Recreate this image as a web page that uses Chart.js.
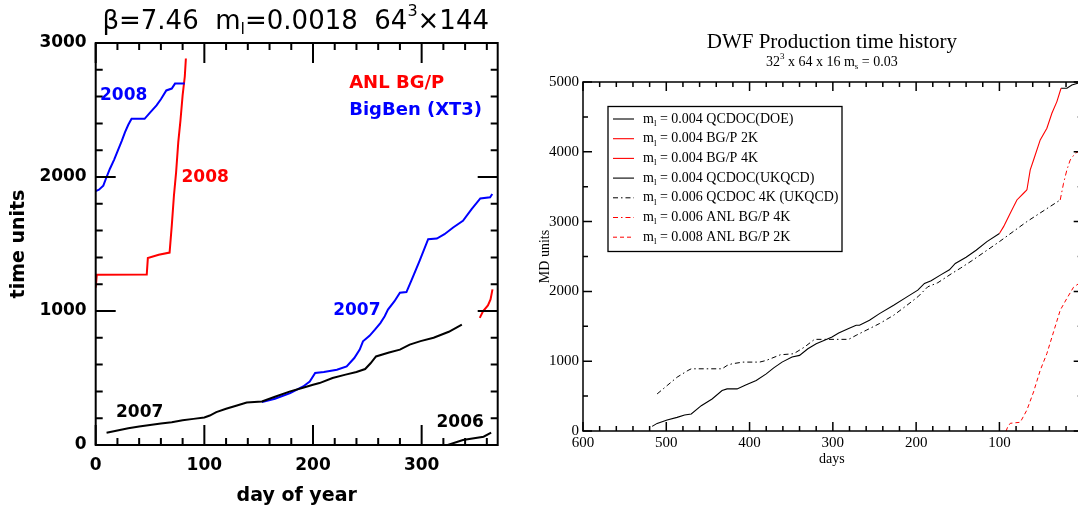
<!DOCTYPE html>
<html>
<head>
<meta charset="utf-8">
<script src="https://cdn.jsdelivr.net/npm/chart.js@4.4.1/dist/chart.umd.min.js"></script>
<style>
html, body { margin: 0; padding: 0; background: #fff; overflow: hidden; width: 1078px; height: 508px; }
#left { position: absolute; left: 0; top: 0; width: 530px; height: 508px; }
#right { position: absolute; left: 530px; top: 0; width: 560px; height: 508px; }
</style>
</head>
<body>
<div id="left"><canvas id="c1"></canvas></div>
<div id="right"><canvas id="c2"></canvas></div>
<script>
// ---- left panel: beta=7.46 run, time units vs day of year ----
const leftXTicks = [0, 100, 200, 300];
const leftYTicks = [0, 1000, 2000, 3000];

const qcdoc2007Days = [10, 20, 30, 40, 50, 60, 70, 80, 90, 100, 105, 111, 120, 130, 139, 153, 165, 179, 190, 200, 206, 218, 230, 240, 248, 253, 258, 270, 280, 289, 299, 311, 325, 337];
const qcdoc2007Vals = [92, 108, 125, 138, 150, 160, 170, 185, 195, 205, 220, 245, 270, 295, 317, 325, 360, 400, 425, 450, 462, 500, 525, 545, 567, 610, 661, 690, 712, 749, 775, 800, 845, 899];
const qcdoc2006Days = [324, 338, 357, 364];
const qcdoc2006Vals = [0, 37, 62, 92];

const bigben2007Days = [153, 165, 179, 191, 197, 202, 210, 222, 231, 238, 243, 246, 252, 257, 262, 266, 269, 275, 280, 286, 291, 298, 306, 314, 321, 329, 338, 346, 354, 363, 365];
const bigben2007Vals = [320, 345, 387, 437, 474, 537, 545, 562, 587, 649, 712, 774, 815, 861, 910, 961, 1011, 1073, 1136, 1141, 1236, 1373, 1536, 1541, 1573, 1623, 1673, 1760, 1840, 1848, 1873];
const bigben2008Days = [0, 3, 7, 10, 13, 17, 21, 24, 27, 30, 33, 40, 45, 50, 56, 60, 65, 70, 73, 78, 82];
const bigben2008Vals = [1895, 1905, 1935, 2000, 2060, 2130, 2210, 2270, 2335, 2390, 2434, 2434, 2434, 2480, 2534, 2580, 2646, 2660, 2697, 2697, 2697];

const bgp2008Days = [0, 1, 47, 48, 58, 68, 70, 72, 74, 76, 78, 80, 82, 83];
const bgp2008Vals = [1174, 1270, 1273, 1395, 1420, 1436, 1635, 1860, 2035, 2260, 2420, 2609, 2750, 2884];
const bgp2007Days = [353.5, 356.6, 361, 363.4, 365.2];
const bgp2007Vals = [949, 999, 1041, 1086, 1161];

// annotation text: [text, day, value, colour]
const leftNotes = [
  ["2008", 4, 2607, "#0000ff"],
  ["2008", 79, 1998, "#ff0000"],
  ["2007", 218.6, 1004, "#0000ff"],
  ["2007", 18.7, 245, "#000000"],
  ["2006", 313.7, 167, "#000000"],
  ["ANL BG/P", 233.3, 2697, "#ff0000"],
  ["BigBen (XT3)", 233.3, 2494, "#0000ff"]
];

// ---- right panel: DWF production time history ----
const rightXTicks = [600, 500, 400, 300, 200, 100];
const rightYTicks = [0, 1000, 2000, 3000, 4000, 5000];

const doeDays = [517, 511, 499, 487, 478, 470, 458, 445, 433, 427, 415, 404, 392, 380, 371, 361, 349, 340, 330, 320, 310, 301, 293, 281, 272, 268, 256, 244, 227, 211, 198, 190, 182, 170, 160, 153, 140, 128, 115, 100];
const doeVals = [66, 109, 157, 195, 229, 243, 363, 459, 579, 603, 603, 661, 723, 819, 905, 987, 1059, 1083, 1179, 1251, 1299, 1347, 1404, 1467, 1515, 1515, 1587, 1682, 1802, 1922, 2018, 2114, 2153, 2240, 2310, 2400, 2490, 2590, 2713, 2830];
const bgp2kDays = [100, 95, 87, 79, 71, 67];
const bgp2kVals = [2830, 2928, 3119, 3310, 3406, 3453];
const bgp4kDays = [67, 63, 59, 51, 43, 37, 31, 26];
const bgp4kVals = [3453, 3740, 3883, 4170, 4337, 4552, 4719, 4910];
const ukqcdDays = [26, 19, 13, 5, 1];
const ukqcdVals = [4910, 4910, 4957, 4985, 5000];
const qcdoc4kDays = [511, 499, 487, 474, 470, 454, 433, 427, 421, 408, 388, 380, 363, 347, 334, 322, 310, 281, 272, 260, 244, 227, 211, 198, 186, 174, 157, 147, 133, 100, 67, 27];
const qcdoc4kVals = [531, 651, 771, 867, 891, 891, 891, 939, 963, 987, 987, 1011, 1092, 1107, 1203, 1313, 1313, 1313, 1371, 1443, 1539, 1658, 1802, 1922, 2066, 2124, 2258, 2331, 2440, 2713, 3000, 3310];
const anl4kDays = [27, 23, 19, 15, 9, 5, 1];
const anl4kVals = [3310, 3549, 3740, 3883, 3979, 4003, 4040];
const anl2kDays = [92, 90, 87, 75, 67, 59, 51, 43, 35, 27, 19, 11, 5, 1];
const anl2kVals = [0, 60, 110, 125, 300, 560, 870, 1110, 1420, 1730, 1900, 2060, 2110, 2160];

const legendLabels = [
  "m_l = 0.004 QCDOC(DOE)",
  "m_l = 0.004 BG/P 2K",
  "m_l = 0.004 BG/P 4K",
  "m_l = 0.004 QCDOC(UKQCD)",
  "m_l = 0.006 QCDOC 4K (UKQCD)",
  "m_l = 0.006 ANL BG/P 4K",
  "m_l = 0.008 ANL BG/P 2K"
];

function pts(xs, ys) { return xs.map((x, i) => ({x: x, y: ys[i]})); }

// simple text with single-char _sub and ^sup
function drawRich(ctx, text, x, y, size, family, weight, align) {
  const parts = [];
  let buf = "";
  for (let i = 0; i < text.length; i++) {
    const ch = text[i];
    if ((ch === "_" || ch === "^") && i + 1 < text.length) {
      if (buf) parts.push({t: buf, k: 0});
      buf = "";
      parts.push({t: text[i + 1], k: ch === "_" ? 1 : -1});
      i++;
    } else buf += ch;
  }
  if (buf) parts.push({t: buf, k: 0});
  const fontFor = k => weight + " " + (k ? Math.round(size * 0.62) : size) + "px " + family;
  let w = 0;
  parts.forEach(p => { ctx.font = fontFor(p.k); p.w = ctx.measureText(p.t).width; w += p.w; });
  let cx = align === "center" ? x - w / 2 : x;
  ctx.textAlign = "left";
  ctx.textBaseline = "middle";
  parts.forEach(p => {
    ctx.font = fontFor(p.k);
    const dy = p.k > 0 ? size * 0.32 : (p.k < 0 ? -size * 0.4 : 0);
    ctx.fillText(p.t, cx, y + dy);
    cx += p.w;
  });
}

// box frame with inward ticks on all four sides
function frameTicks(o) {
  return {
    id: "frameTicks",
    afterDatasetsDraw(chart) {
      const {ctx, chartArea: a, scales: {x, y}} = chart;
      ctx.save();
      ctx.strokeStyle = "#000";
      ctx.lineWidth = o.width;
      ctx.strokeRect(a.left, a.top, a.right - a.left, a.bottom - a.top);
      ctx.beginPath();
      for (let v = x.min; v <= x.max; v += o.xMinor) {
        const px = x.getPixelForValue(v);
        const len = v % o.xMajor === 0 ? o.major : o.minor;
        ctx.moveTo(px, a.bottom); ctx.lineTo(px, a.bottom - len);
        ctx.moveTo(px, a.top); ctx.lineTo(px, a.top + len);
      }
      for (let v = y.min; v <= y.max; v += o.yMinor) {
        const py = y.getPixelForValue(v);
        const len = v % o.yMajor === 0 ? o.major : o.minor;
        ctx.moveTo(a.left, py); ctx.lineTo(a.left + len, py);
        ctx.moveTo(a.right, py); ctx.lineTo(a.right - len, py);
      }
      ctx.stroke();
      ctx.restore();
    }
  };
}

const plain = v => String(v); // no thousands separator

const leftFont = "'DejaVu Sans'";
const leftText = {
  id: "leftText",
  afterDraw(chart) {
    const {ctx, chartArea: a, scales: {x, y}} = chart;
    ctx.save();
    ctx.fillStyle = "#000";
    drawRich(ctx, "\u03b2=7.46  m_l=0.0018  64^3\u00d7144", (a.left + a.right) / 2 - 1, a.top - 21, 26, leftFont, "normal", "center");
    drawRich(ctx, "day of year", (a.left + a.right) / 2, a.bottom + 51, 19, leftFont, "bold", "center");
    ctx.translate(a.left - 77, (a.top + a.bottom) / 2);
    ctx.rotate(-Math.PI / 2);
    drawRich(ctx, "time units", 0, 0, 19, leftFont, "bold", "center");
    ctx.restore();
    ctx.save();
    leftNotes.forEach(n => {
      ctx.fillStyle = n[3];
      const size = n[0].length > 4 ? 18 : 17;
      drawRich(ctx, n[0], x.getPixelForValue(n[1]), y.getPixelForValue(n[2]), size, leftFont, "bold", "left");
    });
    ctx.restore();
  }
};

const lineOpts = (color, w) => ({borderColor: color, borderWidth: w, pointRadius: 0, fill: false, tension: 0});

new Chart(document.getElementById("c1"), {
  type: "line",
  data: {
    datasets: [
      Object.assign({label: "QCDOC 2007", data: pts(qcdoc2007Days, qcdoc2007Vals)}, lineOpts("#000000", 2)),
      Object.assign({label: "QCDOC 2006", data: pts(qcdoc2006Days, qcdoc2006Vals)}, lineOpts("#000000", 2)),
      Object.assign({label: "BigBen 2007", data: pts(bigben2007Days, bigben2007Vals)}, lineOpts("#0000ff", 2)),
      Object.assign({label: "BigBen 2008", data: pts(bigben2008Days, bigben2008Vals)}, lineOpts("#0000ff", 2)),
      Object.assign({label: "ANL BG/P 2008", data: pts(bgp2008Days, bgp2008Vals)}, lineOpts("#ff0000", 2)),
      Object.assign({label: "ANL BG/P 2007", data: pts(bgp2007Days, bgp2007Vals)}, lineOpts("#ff0000", 2))
    ]
  },
  options: {
    responsive: true, maintainAspectRatio: false, animation: false,
    layout: {padding: {left: 0, top: 43, right: 32.3, bottom: 0}},
    plugins: {legend: {display: false}, tooltip: {enabled: false}},
    scales: {
      x: {
        type: "linear", min: 0, max: 370,
        grid: {display: false, drawTicks: false}, border: {display: false},
        afterBuildTicks: s => { s.ticks = leftXTicks.map(v => ({value: v})); },
        afterFit: s => { s.height = 63; },
        ticks: {padding: 10, color: "#000", maxRotation: 0, callback: plain, font: {family: leftFont, weight: "bold", size: 17}}
      },
      y: {
        type: "linear", min: 0, max: 3000,
        grid: {display: false, drawTicks: false}, border: {display: false},
        afterBuildTicks: s => { s.ticks = leftYTicks.map(v => ({value: v})); },
        afterFit: s => { s.width = 95.7; },
        ticks: {padding: 9, color: "#000", callback: plain, font: {family: leftFont, weight: "bold", size: 17}}
      }
    }
  },
  plugins: [frameTicks({width: 2, major: 20, minor: 7, xMinor: 20, xMajor: 100, yMinor: 200, yMajor: 1000}), leftText]
});

const serif = "'Liberation Serif'";
const rightText = {
  id: "rightText",
  afterDraw(chart) {
    const {ctx, chartArea: a} = chart;
    ctx.save();
    ctx.fillStyle = "#000";
    const cx = (a.left + a.right) / 2;
    drawRich(ctx, "DWF Production time history", cx - 1, a.top - 40, 21, serif, "normal", "center");
    drawRich(ctx, "32^3 x 64 x 16 m_s = 0.03", cx - 1, a.top - 20, 14, serif, "normal", "center");
    drawRich(ctx, "days", cx - 1, a.bottom + 28, 14, serif, "normal", "center");
    ctx.save();
    ctx.translate(a.left - 38, (a.top + a.bottom) / 2);
    ctx.rotate(-Math.PI / 2);
    drawRich(ctx, "MD units", 0, 0, 14, serif, "normal", "center");
    ctx.restore();
    // legend box
    const bx = a.left + 25, by = a.top + 24.5, bw = 234, bh = 145;
    ctx.fillStyle = "#fff";
    ctx.fillRect(bx, by, bw, bh);
    ctx.strokeStyle = "#000";
    ctx.lineWidth = 1.3;
    ctx.strokeRect(bx, by, bw, bh);
    chart.data.datasets.forEach((ds, i) => {
      const ry = by + 12.5 + i * 19.7;
      ctx.save();
      ctx.strokeStyle = ds.borderColor;
      ctx.lineWidth = ds.borderWidth;
      ctx.setLineDash(ds.borderDash || []);
      ctx.beginPath();
      ctx.moveTo(bx + 5, ry);
      ctx.lineTo(bx + 26, ry);
      ctx.stroke();
      ctx.restore();
      ctx.fillStyle = "#000";
      drawRich(ctx, ds.label, bx + 35, ry, 14, serif, "normal", "left");
    });
    ctx.restore();
  }
};

const dashDot = [5, 3, 1.5, 3];
new Chart(document.getElementById("c2"), {
  type: "line",
  data: {
    datasets: [
      Object.assign({label: legendLabels[0], data: pts(doeDays, doeVals)}, lineOpts("#000000", 1.1)),
      Object.assign({label: legendLabels[1], data: pts(bgp2kDays, bgp2kVals)}, lineOpts("#ff0000", 1.1)),
      Object.assign({label: legendLabels[2], data: pts(bgp4kDays, bgp4kVals)}, lineOpts("#ff0000", 1.1)),
      Object.assign({label: legendLabels[3], data: pts(ukqcdDays, ukqcdVals)}, lineOpts("#000000", 1.1)),
      Object.assign({label: legendLabels[4], data: pts(qcdoc4kDays, qcdoc4kVals), borderDash: dashDot}, lineOpts("#000000", 1)),
      Object.assign({label: legendLabels[5], data: pts(anl4kDays, anl4kVals), borderDash: dashDot}, lineOpts("#ff0000", 1)),
      Object.assign({label: legendLabels[6], data: pts(anl2kDays, anl2kVals), borderDash: [4, 3]}, lineOpts("#ff0000", 1))
    ]
  },
  options: {
    responsive: true, maintainAspectRatio: false, animation: false,
    layout: {padding: {left: 0, top: 82, right: 7.3, bottom: 0}},
    plugins: {legend: {display: false}, tooltip: {enabled: false}},
    scales: {
      x: {
        type: "linear", min: 0, max: 600, reverse: true,
        grid: {display: false, drawTicks: false}, border: {display: false},
        afterBuildTicks: s => { s.ticks = rightXTicks.map(v => ({value: v})); },
        afterFit: s => { s.height = 77; },
        ticks: {padding: 3, color: "#000", maxRotation: 0, callback: plain, font: {family: serif, size: 15}}
      },
      y: {
        type: "linear", min: 0, max: 5000,
        grid: {display: false, drawTicks: false}, border: {display: false},
        afterBuildTicks: s => { s.ticks = rightYTicks.map(v => ({value: v})); },
        afterFit: s => { s.width = 53; },
        ticks: {padding: 4, color: "#000", callback: plain, font: {family: serif, size: 15}}
      }
    }
  },
  plugins: [frameTicks({width: 1.5, major: 9, minor: 5, xMinor: 20, xMajor: 100, yMinor: 500, yMajor: 1000}), rightText]
});
</script>
</body>
</html>
